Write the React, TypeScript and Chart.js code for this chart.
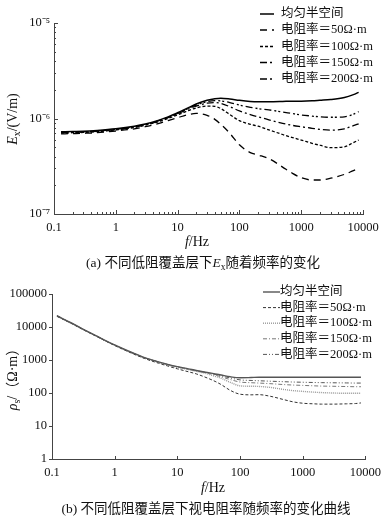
import React, { useEffect, useRef } from 'react';
import { Chart, registerables } from 'chart.js';
Chart.register(...registerables);

// ---------- data ----------
const seriesNames = ['均匀半空间', '电阻率＝50Ω·m', '电阻率＝100Ω·m', '电阻率＝150Ω·m', '电阻率＝200Ω·m'];

const freqA = [0.13, 0.2, 0.3, 0.5, 1, 2, 3, 5, 7, 10, 15, 20, 30, 40, 50, 70, 100, 150, 200, 300, 500, 700, 1000, 1500, 2000, 3000, 5000, 7000, 8500];
const exUniform = [7.25e-7, 7.3e-7, 7.35e-7, 7.5e-7, 7.8e-7, 8.3e-7, 8.75e-7, 9.6e-7, 1.04e-6, 1.15e-6, 1.3e-6, 1.42e-6, 1.55e-6, 1.61e-6, 1.63e-6, 1.6e-6, 1.55e-6, 1.51e-6, 1.5e-6, 1.5e-6, 1.51e-6, 1.52e-6, 1.52e-6, 1.53e-6, 1.55e-6, 1.58e-6, 1.66e-6, 1.78e-6, 1.88e-6];
const ex50 = [6.9e-7, 6.95e-7, 7.0e-7, 7.1e-7, 7.4e-7, 7.8e-7, 8.2e-7, 8.9e-7, 9.5e-7, 1.02e-6, 1.1e-6, 1.13e-6, 1.08e-6, 9.8e-7, 8.7e-7, 7.0e-7, 5.3e-7, 4.4e-7, 4.15e-7, 3.8e-7, 3.1e-7, 2.7e-7, 2.4e-7, 2.27e-7, 2.27e-7, 2.37e-7, 2.6e-7, 2.85e-7, 3.0e-7];
const ex100 = [7.05e-7, 7.1e-7, 7.15e-7, 7.3e-7, 7.6e-7, 8.05e-7, 8.5e-7, 9.3e-7, 1.0e-6, 1.09e-6, 1.21e-6, 1.29e-6, 1.35e-6, 1.34e-6, 1.27e-6, 1.1e-6, 9.5e-7, 8.7e-7, 8.3e-7, 7.6e-7, 6.8e-7, 6.35e-7, 5.95e-7, 5.5e-7, 5.25e-7, 4.95e-7, 5.05e-7, 5.6e-7, 5.95e-7];
const ex150 = [7.1e-7, 7.15e-7, 7.2e-7, 7.35e-7, 7.65e-7, 8.15e-7, 8.6e-7, 9.4e-7, 1.02e-6, 1.12e-6, 1.26e-6, 1.35e-6, 1.45e-6, 1.47e-6, 1.44e-6, 1.33e-6, 1.2e-6, 1.1e-6, 1.04e-6, 9.7e-7, 8.9e-7, 8.5e-7, 8.2e-7, 7.9e-7, 7.7e-7, 7.55e-7, 7.8e-7, 8.4e-7, 8.8e-7];
const ex200 = [7.15e-7, 7.2e-7, 7.25e-7, 7.4e-7, 7.7e-7, 8.2e-7, 8.65e-7, 9.5e-7, 1.03e-6, 1.13e-6, 1.28e-6, 1.38e-6, 1.5e-6, 1.54e-6, 1.53e-6, 1.47e-6, 1.38e-6, 1.31e-6, 1.27e-6, 1.23e-6, 1.17e-6, 1.13e-6, 1.09e-6, 1.06e-6, 1.04e-6, 1.03e-6, 1.04e-6, 1.11e-6, 1.18e-6];

const freqB = [0.12, 0.2, 0.3, 0.5, 1, 2, 3, 5, 7, 10, 15, 20, 30, 40, 50, 70, 100, 150, 200, 300, 500, 700, 1000, 1500, 2000, 3000, 5000, 7000, 8500];
const rhoUniform = [22000, 13500, 9000, 5500, 2850, 1600, 1180, 880, 740, 630, 540, 480, 420, 380, 350, 310, 290, 295, 300, 300, 300, 300, 300, 300, 300, 300, 300, 300, 300];
const rho50 = [21000, 13000, 8700, 5300, 2750, 1520, 1110, 800, 660, 540, 440, 380, 285, 225, 180, 120, 92, 88, 89, 80, 63, 54, 49, 47, 46, 46, 47, 48, 50];
const rho100 = [21500, 13200, 8850, 5400, 2800, 1570, 1150, 850, 710, 600, 510, 455, 380, 320, 280, 210, 165, 160, 158, 148, 128, 118, 112, 106, 103, 100, 98, 98, 98];
const rho150 = [21700, 13300, 8900, 5450, 2820, 1580, 1160, 865, 725, 615, 525, 470, 400, 350, 310, 255, 215, 205, 200, 192, 180, 174, 170, 165, 162, 160, 157, 155, 155];
const rho200 = [21800, 13400, 8950, 5480, 2835, 1590, 1170, 870, 732, 620, 530, 475, 410, 365, 330, 285, 250, 240, 235, 228, 220, 215, 212, 208, 206, 204, 202, 200, 200];

const xTickValues = [0.1, 1, 10, 100, 1000, 10000];
const xTickLabels = ['0.1', '1', '10', '100', '1000', '10000'];
const yTickValuesA = [1e-7, 1e-6, 1e-5];
const yTickLabelsA = ['10⁻⁷', '10⁻⁶', '10⁻⁵'];
const yTickValuesB = [1, 10, 100, 1000, 10000, 100000];
const yTickLabelsB = ['1', '10', '100', '1000', '10000', '100000'];

// ---------- helpers ----------
const SERIF = "'Liberation Serif', 'Noto Sans CJK SC', serif";

function toPoints(xs: number[], ys: number[]) {
  return xs.map((x, i) => ({ x, y: ys[i] }));
}

function drawLogTicks(ctx: CanvasRenderingContext2D, scale: any, axis: 'x' | 'y', base: number, majorLen: number, minorLen: number) {
  const min = scale.min, max = scale.max;
  const e0 = Math.floor(Math.log10(min)), e1 = Math.ceil(Math.log10(max));
  for (let e = e0; e <= e1; e++) {
    for (let m = 1; m <= 9; m++) {
      const v = m * Math.pow(10, e);
      if (v < min * 0.999 || v > max * 1.001) continue;
      const len = m === 1 ? majorLen : minorLen;
      if (!len) continue;
      const p = Math.round(scale.getPixelForValue(v)) + 0.5;
      ctx.beginPath();
      if (axis === 'x') { ctx.moveTo(p, base); ctx.lineTo(p, base - len); }
      else { ctx.moveTo(base, p); ctx.lineTo(base + len, p); }
      ctx.stroke();
    }
  }
}

const customPlugin = {
  id: 'custom',
  afterDatasetsDraw(chart: any, _args: any, opts: any) {
    const ctx: CanvasRenderingContext2D = chart.ctx;
    const { left, bottom } = chart.chartArea;
    ctx.save();
    ctx.strokeStyle = opts.axisColor;
    ctx.lineWidth = 1;
    ctx.setLineDash([]);
    drawLogTicks(ctx, chart.scales.x, 'x', bottom, opts.xMajor, opts.xMinor);
    drawLogTicks(ctx, chart.scales.y, 'y', left, opts.yMajor, opts.yMinor);
    // legend
    ctx.font = opts.legendFont;
    ctx.textBaseline = 'middle';
    ctx.textAlign = 'left';
    chart.data.datasets.forEach((ds: any, i: number) => {
      const y = opts.rows[i];
      ctx.save();
      ctx.strokeStyle = ds.borderColor;
      ctx.lineWidth = ds.borderWidth;
      ctx.setLineDash(ds.borderDash || []);
      ctx.beginPath();
      ctx.moveTo(opts.lx1, y);
      ctx.lineTo(opts.lx2, y);
      ctx.stroke();
      ctx.restore();
      ctx.fillStyle = '#111';
      ctx.fillText(ds.label, opts.tx, y);
    });
    ctx.restore();
  },
};

function makeConfig(p: any) {
  return {
    type: 'line',
    data: { datasets: p.datasets },
    plugins: [customPlugin],
    options: {
      animation: false,
      responsive: false,
      maintainAspectRatio: false,
      layout: { padding: p.padding },
      elements: { point: { radius: 0 }, line: { cubicInterpolationMode: 'monotone' } },
      plugins: { legend: { display: false }, tooltip: { enabled: false }, custom: p.custom },
      scales: {
        x: {
          type: 'logarithmic', min: 0.1, max: 10000,
          afterBuildTicks: (s: any) => { s.ticks = xTickValues.map((v) => ({ value: v })); },
          afterFit: (s: any) => { s.height = p.xHeight; },
          grid: { display: false, drawTicks: false },
          border: { display: true, color: p.axisColor, width: 1 },
          ticks: {
            autoSkip: false, maxRotation: 0, padding: p.xPad, color: '#111',
            font: { family: SERIF, size: 12.5 },
            callback: (v: number) => xTickLabels[xTickValues.indexOf(v)] ?? '',
          },
        },
        y: {
          type: 'logarithmic', min: p.yMin, max: p.yMax,
          afterBuildTicks: (s: any) => { s.ticks = p.yTicks.map((v: number) => ({ value: v })); },
          afterFit: (s: any) => { s.width = p.yWidth; },
          grid: { display: false, drawTicks: false },
          border: { display: true, color: p.axisColor, width: 1 },
          ticks: {
            autoSkip: false, padding: p.yPad, color: '#111',
            font: { family: SERIF, size: 12.5 },
            callback: (v: number) => p.yLabels[p.yTicks.indexOf(v)] ?? '',
          },
        },
      },
    },
  };
}

function ChartCanvas({ config, style, width, height }: any) {
  const ref = useRef<HTMLCanvasElement>(null);
  useEffect(() => {
    const chart = new Chart(ref.current as HTMLCanvasElement, config);
    return () => chart.destroy();
  }, []);
  return <canvas ref={ref} width={width} height={height} style={{ position: 'absolute', display: 'block', ...style }} />;
}

const abs = (x: number, y: number, extra: any = {}) => ({
  position: 'absolute' as const, left: x, top: y, transform: 'translate(-50%, -50%)',
  whiteSpace: 'nowrap' as const, fontFamily: SERIF, color: '#111', lineHeight: 1, ...extra,
});
const subStyle = { fontSize: '0.7em', position: 'relative' as const, top: '0.3em' };

export default function App() {
  const configA = makeConfig({
    datasets: [
      { label: seriesNames[0], data: toPoints(freqA, exUniform), borderColor: '#000', borderWidth: 1.5, borderDash: [] },
      { label: seriesNames[1], data: toPoints(freqA, ex50), borderColor: '#000', borderWidth: 1.3, borderDash: [7, 5] },
      { label: seriesNames[2], data: toPoints(freqA, ex100), borderColor: '#000', borderWidth: 1.3, borderDash: [3, 2] },
      { label: seriesNames[3], data: toPoints(freqA, ex150), borderColor: '#000', borderWidth: 1.3, borderDash: [7, 3, 2, 3] },
      { label: seriesNames[4], data: toPoints(freqA, ex200), borderColor: '#000', borderWidth: 1.3, borderDash: [7, 3, 2, 2, 2, 3] },
    ],
    padding: { top: 23, right: 24, left: 0, bottom: 0 },
    xHeight: 36, yWidth: 54, xPad: 6, yPad: 4,
    yMin: 1e-7, yMax: 1e-5, yTicks: yTickValuesA, yLabels: yTickLabelsA,
    axisColor: '#444',
    custom: {
      axisColor: '#444', xMajor: 4, xMinor: 2, yMajor: 4, yMinor: 2,
      legendFont: `12.5px ${SERIF}`, rows: [14, 30, 46.5, 62.5, 79], lx1: 260, lx2: 274, tx: 281,
    },
  });

  const configB = makeConfig({
    datasets: [
      { label: seriesNames[0], data: toPoints(freqB, rhoUniform), borderColor: '#555', borderWidth: 1.4, borderDash: [] },
      { label: seriesNames[1], data: toPoints(freqB, rho50), borderColor: '#333', borderWidth: 1, borderDash: [3, 2] },
      { label: seriesNames[2], data: toPoints(freqB, rho100), borderColor: '#999', borderWidth: 1.4, borderDash: [1, 1] },
      { label: seriesNames[3], data: toPoints(freqB, rho150), borderColor: '#777', borderWidth: 1, borderDash: [4, 2, 1, 2] },
      { label: seriesNames[4], data: toPoints(freqB, rho200), borderColor: '#555', borderWidth: 1, borderDash: [4, 2, 1, 2, 1, 2] },
    ],
    padding: { top: 24, right: 20, left: 0, bottom: 0 },
    xHeight: 31, yWidth: 52, xPad: 6, yPad: 5,
    yMin: 1, yMax: 100000, yTicks: yTickValuesB, yLabels: yTickLabelsB,
    axisColor: '#444',
    custom: {
      axisColor: '#444', xMajor: 3, xMinor: 0, yMajor: -3, yMinor: 0,
      legendFont: `12.5px ${SERIF}`, rows: [22, 37.6, 53.2, 68.8, 84.4], lx1: 263, lx2: 280, tx: 280,
    },
  });

  return (
    <div style={{ position: 'absolute', left: 0, top: 0, width: 387, height: 522, background: '#fff', overflow: 'hidden' }}>
      <ChartCanvas config={configA} width={387} height={250} style={{ left: 0, top: 0 }} />
      <ChartCanvas config={configB} width={387} height={220} style={{ left: 0, top: 270 }} />

      <div style={abs(13, 119, { fontSize: 14, transform: 'translate(-50%, -50%) rotate(-90deg)' })}>
        <i>E</i><span style={subStyle}>x</span>/(V/m)
      </div>
      <div style={abs(197, 242, { fontSize: 14 })}><i>f</i>/Hz</div>
      <div style={abs(203, 263, { fontSize: 13.5 })}>
        (a) 不同低阻覆盖层下<i>E</i><span style={subStyle}>x</span>随着频率的变化
      </div>

      <div style={abs(13, 376, { fontSize: 14, transform: 'translate(-50%, -50%) rotate(-90deg)' })}>
        <i>ρ</i><span style={subStyle}>s</span>/（Ω·m）
      </div>
      <div style={abs(213, 488, { fontSize: 14 })}><i>f</i>/Hz</div>
      <div style={abs(206, 509, { fontSize: 13.5 })}>
        (b) 不同低阻覆盖层下视电阻率随频率的变化曲线
      </div>
    </div>
  );
}
